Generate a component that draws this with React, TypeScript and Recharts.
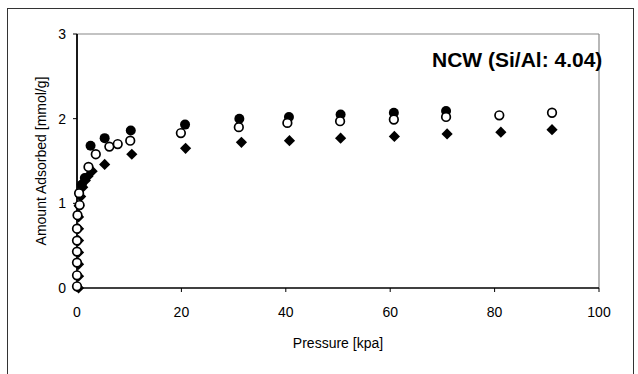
import React from 'react';
import { ScatterChart, Scatter, XAxis, YAxis, ReferenceLine } from 'recharts';

// Series: filled circles
const filledX = [0.9, 1.5, 2.6, 5.3, 10.3, 20.7, 31.1, 40.6, 50.5, 60.7, 70.7];
const filledY = [1.22, 1.3, 1.68, 1.77, 1.86, 1.93, 2.0, 2.02, 2.05, 2.07, 2.09];

// Series: open circles
const openX = [0, 0, 0, 0, 0, 0, 0.1, 0.5, 0.4, 2.2, 3.6, 6.2, 7.8, 10.2, 19.9, 31.0, 40.3, 50.4, 60.7, 70.7, 80.9, 91.0];
const openY = [0.02, 0.15, 0.3, 0.43, 0.56, 0.7, 0.86, 0.98, 1.12, 1.43, 1.58, 1.67, 1.7, 1.74, 1.83, 1.9, 1.95, 1.97, 1.99, 2.02, 2.04, 2.07];

// Series: diamonds
const diamondX = [0.3, 0.3, 0.3, 0.3, 0.3, 0.3, 0.3, 0.4, 0.7, 1.1, 1.6, 2.1, 2.9, 5.3, 10.5, 20.8, 31.5, 40.7, 50.5, 60.8, 70.9, 81.2, 91.0];
const diamondY = [0.0, 0.14, 0.28, 0.42, 0.56, 0.7, 0.84, 0.97, 1.08, 1.19, 1.27, 1.32, 1.38, 1.46, 1.58, 1.65, 1.72, 1.74, 1.77, 1.79, 1.82, 1.84, 1.87];

const xTicks = [0, 20, 40, 60, 80, 100];
const yTicks = [0, 1, 2, 3];
const title = 'NCW (Si/Al: 4.04)';
const xLabel = 'Pressure [kpa]';
const yLabel = 'Amount Adsorbed [mmol/g]';

const toPoints = (xs: number[], ys: number[]) => xs.map((x, i) => ({ x, y: ys[i] }));
const filledData = toPoints(filledX, filledY);
const openData = toPoints(openX, openY);
const diamondData = toPoints(diamondX, diamondY);

const FONT = '"Liberation Sans", Arial, sans-serif';

const FilledCircle = (p: any) => <circle cx={p.cx} cy={p.cy} r={5} fill="#000" />;
const OpenCircle = (p: any) => (
  <circle cx={p.cx} cy={p.cy} r={4.3} fill="#fff" stroke="#000" strokeWidth={1.7} />
);
const Diamond = (p: any) => {
  const { cx, cy } = p;
  const s = 5.6;
  return <path d={`M${cx},${cy - s}L${cx + s},${cy}L${cx},${cy + s}L${cx - s},${cy}Z`} fill="#000" />;
};

const YLabel = (props: any) => {
  const vb = props.viewBox || {};
  const cx = vb.x + 41;
  const cy = vb.y + vb.height / 2;
  return (
    <text
      x={cx}
      y={cy}
      transform={`rotate(-90, ${cx}, ${cy})`}
      textAnchor="middle"
      dominantBaseline="central"
      fontSize={14}
      fontFamily={FONT}
      fill="#000"
    >
      {yLabel}
    </text>
  );
};

export default function App() {
  return (
    <div style={{ position: 'absolute', left: 0, top: 0, width: 638, height: 374, overflow: 'hidden', background: '#fff' }}>
      <div
        style={{
          position: 'absolute',
          left: 7,
          top: 8,
          width: 627,
          height: 400,
          boxSizing: 'border-box',
          border: '1px solid #333',
        }}
      />
      <div style={{ position: 'absolute', left: 0, top: 0 }}>
        <ScatterChart width={638} height={374} margin={{ top: 34, right: 39, bottom: 0, left: 0 }}>
          <XAxis
            type="number"
            dataKey="x"
            domain={[0, 100]}
            ticks={xTicks}
            interval={0}
            height={86}
            axisLine={{ stroke: '#000', strokeWidth: 1.5 }}
            tickLine={{ stroke: '#000' }}
            tickSize={4}
            tickMargin={15}
            tick={{ fill: '#000', fontSize: 14, fontFamily: FONT }}
            label={{ value: xLabel, position: 'insideTop', offset: 50, fill: '#000', fontSize: 14, fontFamily: FONT }}
          />
          <YAxis
            type="number"
            dataKey="y"
            domain={[0, 3]}
            ticks={yTicks}
            interval={0}
            width={77}
            axisLine={{ stroke: '#000', strokeWidth: 1.8 }}
            tickLine={{ stroke: '#000' }}
            tickSize={4}
            tickMargin={7}
            tick={{ fill: '#000', fontSize: 14, fontFamily: FONT }}
            label={<YLabel />}
          />
          <ReferenceLine y={3} stroke="#888" strokeWidth={1.2} />
          <ReferenceLine x={100} stroke="#888" strokeWidth={1.2} />
          <Scatter data={diamondData} shape={Diamond} isAnimationActive={false} />
          <Scatter data={filledData} shape={FilledCircle} isAnimationActive={false} />
          <Scatter data={openData} shape={OpenCircle} isAnimationActive={false} />
        </ScatterChart>
      </div>
      <div
        style={{
          position: 'absolute',
          left: 432,
          top: 49,
          fontFamily: FONT,
          fontWeight: 'bold',
          fontSize: 21,
          lineHeight: '21px',
          color: '#000',
          whiteSpace: 'nowrap',
        }}
      >
        {title}
      </div>
    </div>
  );
}
